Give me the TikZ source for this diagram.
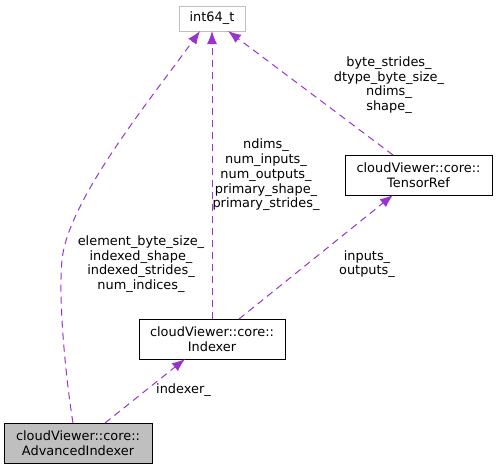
\documentclass[tikz,border=0pt]{standalone}
\usepackage{fontspec}
\setmainfont{DejaVu Sans}
\usetikzlibrary{arrows.meta}
\definecolor{edgec}{RGB}{154,50,205}
\definecolor{boxgray}{RGB}{191,191,191}
\tikzset{
  cls/.style={draw=black, line width=0.9pt, fill=white, align=center, inner sep=0pt, minimum height=40pt, font=\fontsize{12.9}{14.7}\selectfont},
  ext/.style={draw=boxgray, line width=0.9pt, fill=white, align=center, inner sep=0pt, minimum height=25pt, font=\fontsize{12.9}{14.7}\selectfont},
  rel/.style={draw=edgec, dashed, dash pattern=on 7pt off 5pt, line width=1pt, -{Latex[length=13pt,width=10pt]}},
  lbl/.style={align=center, inner sep=0pt, font=\fontsize{12.9}{14.7}\selectfont}
}
\begin{document}
\begin{tikzpicture}[x=1pt,y=-1pt]
\useasboundingbox (0,0) rectangle (497,469);
\node[ext, minimum width=66pt] (int) at (212,18.5) {int64\_t};
\node[cls, minimum width=147pt] (tref) at (418.5,175) {cloudViewer::core::\\TensorRef};
\node[cls, minimum width=146pt] (idx) at (212,339) {cloudViewer::core::\\Indexer};
\node[cls, minimum width=148pt, fill=boxgray] (adv) at (78,443) {cloudViewer::core::\\AdvancedIndexer};

\coordinate (advtop) at (73,423);
\coordinate (advtr) at (105,423);
\coordinate (inttl) at (200,31);
\coordinate (inttr) at (228,31);
\coordinate (idxtl) at (185,359);
\coordinate (idxtop) at (212,319);
\coordinate (idxtr) at (239,319);
\coordinate (treftop) at (393,155);
\coordinate (trefbot) at (393,195);
\coordinate (intbot) at (212,31);

\draw[rel] (advtop) .. controls (66,380) and (58,300) .. (62,260) .. controls (68,200) and (150,100) .. (inttl);
\draw[rel] (idxtop) -- (intbot);
\draw[rel] (treftop) -- (inttr);
\draw[rel] (idxtr) -- (trefbot);
\draw[rel] (advtr) -- (idxtl);

\node[lbl] (l1) at (141,264) {element\_byte\_size\_\\indexed\_shape\_\\indexed\_strides\_\\num\_indices\_};
\node[lbl] (l2) at (266,175) {ndims\_\\num\_inputs\_\\num\_outputs\_\\primary\_shape\_\\primary\_strides\_};
\node[lbl] (l3) at (389,85) {byte\_strides\_\\dtype\_byte\_size\_\\ndims\_\\shape\_};
\node[lbl] (l4) at (367,264) {inputs\_\\outputs\_};
\node[lbl, anchor=west] (l5) at (156,390) {indexer\_};
\end{tikzpicture}
\end{document}
